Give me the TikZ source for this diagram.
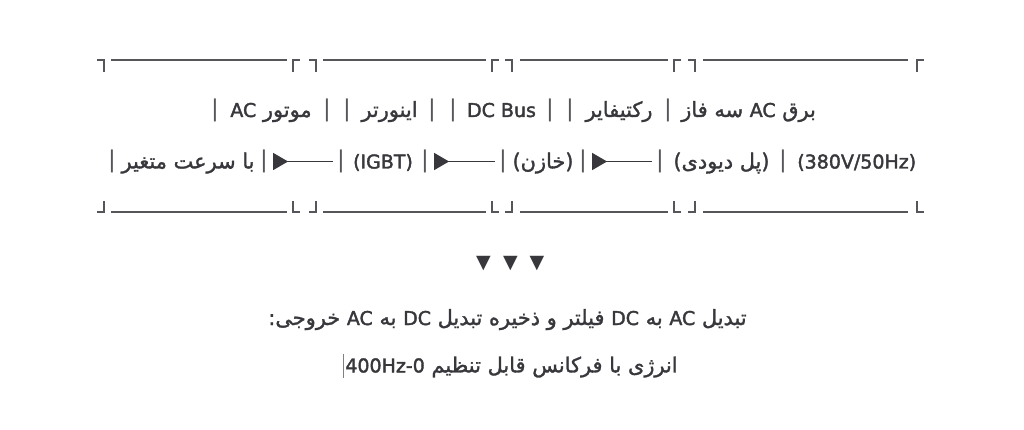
\documentclass[tikz,border=0pt]{standalone}
\usepackage{fontspec}
\setmainfont{DejaVu Sans}
\newfontfamily\fafont[Script=Arabic, Scale=1.1, FakeBold=1.4]{DejaVu Sans}
\newfontfamily\latfont[FakeBold=2]{DejaVu Sans}
\TeXXeTstate=1
\usetikzlibrary{arrows.meta, positioning, calc}
\definecolor{inkdark}{RGB}{55,55,60}
\definecolor{rulegray}{RGB}{85,85,90}

\begin{document}
\begin{tikzpicture}[
  x=1pt, y=-1pt,
  rule/.style={rulegray, line width=1.6pt},
  bar/.style={inner sep=0pt, text=rulegray, font=\fontsize{23}{23}\selectfont},
  lbl/.style={inner sep=0pt, text=inkdark, text height=18pt, text depth=4pt, font=\fontsize{19}{22}\selectfont\fafont},
  note/.style={inner sep=0pt, text=inkdark, text height=18pt, text depth=5pt, font=\fontsize{19}{22}\selectfont\fafont},
  tri/.style={inner sep=0pt, text=inkdark, font=\fontsize{19}{22}\selectfont},
  flow/.style={{Triangle[reversed, length=15pt, width=17pt]}-, inkdark, line width=1.5pt, shorten <=5pt, shorten >=4pt},
  caret/.style={gray, line width=0.8pt}
]
  \fill[white] (0,0) rectangle (1024,430);
  \useasboundingbox (0,0) rectangle (1024,430);

  % box tops
  \draw[rule] (97,60) -- (104,60) -- (104,72) (111,60) -- (287,60) (300,60) -- (293,60) -- (293,72);
  \draw[rule] (309,60) -- (316,60) -- (316,72) (323,60) -- (486,60) (499,60) -- (492,60) -- (492,72);
  \draw[rule] (505,60) -- (512,60) -- (512,72) (520,60) -- (668,60) (681,60) -- (674,60) -- (674,72);
  \draw[rule] (688,60) -- (695,60) -- (695,72) (703,60) -- (908,60) (924,60) -- (917,60) -- (917,72);

  % first row
  \node[bar] (ma) at (215,110) {|};
  \node[bar] (mb) at (327,110) {|};
  \node[bar] (ia) at (347,110) {|};
  \node[bar] (ib) at (432,110) {|};
  \node[bar] (da) at (453,110) {|};
  \node[bar] (db) at (550,110) {|};
  \node[bar] (ra) at (570,110) {|};
  \node[bar] (rb) at (668,110) {|};

  \node[lbl] (motor) at ($(ma)!0.5!(mb)$) {\beginR موتور {\latfont AC}\endR};
  \node[lbl] (inv) at ($(ia)!0.5!(ib)$) {\beginR اینورتر\endR};
  \node[lbl] (bus) at ($(da)!0.5!(db)$) {\latfont DC Bus};
  \node[lbl] (rect) at ($(ra)!0.5!(rb)$) {\beginR رکتیفایر\endR};
  \node[lbl, right=9pt of rb] (grid) {\beginR برق {\latfont AC} سه فاز\endR};

  % second row
  \node[bar] (sa) at (112,161.5) {|};
  \node[bar] (sb) at (264,161.5) {|};
  \node[bar] (ga) at (341,161.5) {|};
  \node[bar] (gb) at (425,161.5) {|};
  \node[bar] (ka) at (503,161.5) {|};
  \node[bar] (kb) at (583,161.5) {|};
  \node[bar] (pa) at (660,161.5) {|};
  \node[bar] (pb) at (783,161.5) {|};

  \node[lbl] (speed) at ($(sa)!0.5!(sb)$) {\beginR با سرعت متغیر\endR};
  \node[lbl] (igbt) at ($(ga)!0.5!(gb)$) {\latfont (IGBT)};
  \node[lbl] (cap) at ($(ka)!0.5!(kb)$) {\beginR (خازن)\endR};
  \node[lbl] (bridge) at ($(pa)!0.5!(pb)$) {\beginR (پل دیودی)\endR};
  \node[lbl, right=10pt of pb] (volt) {\latfont (380V/50Hz)};

  \draw[flow] (sb) -- (ga);
  \draw[flow] (gb) -- (ka);
  \draw[flow] (kb) -- (pa);

  % box bottoms
  \draw[rule] (97,212) -- (104,212) -- (104,201) (111,212) -- (287,212) (300,212) -- (293,212) -- (293,201);
  \draw[rule] (309,212) -- (316,212) -- (316,201) (323,212) -- (486,212) (499,212) -- (492,212) -- (492,201);
  \draw[rule] (505,212) -- (512,212) -- (512,201) (520,212) -- (668,212) (681,212) -- (674,212) -- (674,201);
  \draw[rule] (688,212) -- (695,212) -- (695,201) (703,212) -- (908,212) (924,212) -- (917,212) -- (917,201);

  % down marks
  \node[tri] (v1) at (483.5,264) {▼};
  \node[tri] (v2) at (510.5,264) {▼};
  \node[tri] (v3) at (537,264) {▼};

  \node[note] (conv) at (507.5,318.5) {\beginR تبدیل {\latfont AC} به {\latfont DC} فیلتر و ذخیره تبدیل {\latfont DC} به {\latfont AC} خروجی:\endR};
  \node[note, below=24pt of conv, xshift=4pt] (range) {\beginR انرژی با فرکانس قابل تنظیم {\latfont 400Hz-0}\endR};
  \draw[caret] ([xshift=-1.5pt]range.north west) -- ([xshift=-1.5pt]range.south west);
\end{tikzpicture}
\end{document}
